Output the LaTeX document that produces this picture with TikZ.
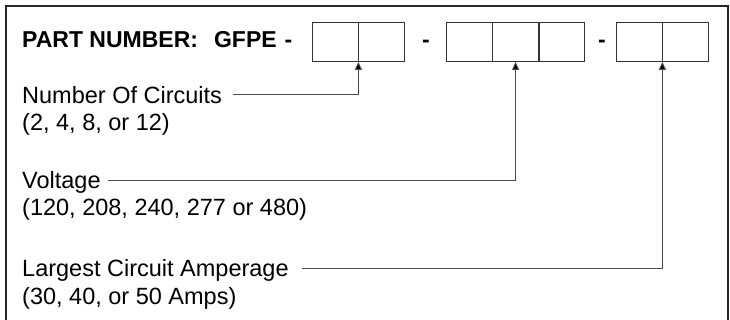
\documentclass[tikz,border=0pt]{standalone}
\usepackage{fontspec}
\setmainfont{Liberation Sans}
\usetikzlibrary{arrows.meta}
\begin{document}
\begin{tikzpicture}[x=1pt,y=-1pt,
  cell/.style={draw=black!80,line width=0.9pt,minimum width=45.5pt,minimum height=39pt,inner sep=0pt,anchor=north west},
  lbl/.style={anchor=base west,inner sep=0pt,font=\fontsize{23.5}{28}\selectfont},
  hdr/.style={anchor=base west,inner sep=0pt,font=\fontsize{23}{27}\selectfont\bfseries},
  conn/.style={draw=black!70,line width=0.9pt,-{Triangle[length=8pt,width=7pt,fill=black]}}]
\useasboundingbox (0,0) rectangle (730,320);
% frame
\draw[line width=1.4pt,black!85] (6,320) -- (6,6) -- (728,6) -- (728,320);
% header
\node[hdr] (title) at (22,48) {PART NUMBER:\hspace{16pt}GFPE\hspace{8pt}-};
\node[hdr,anchor=base] (d1) at (426,48) {-};
\node[hdr,anchor=base] (d2) at (602,48) {-};
% cells
\node[cell] (c11) at (312,22) {};
\node[cell] (c12) at (c11.north east) {};
\node[cell] (c21) at (446,22) {};
\node[cell] (c22) at (c21.north east) {};
\node[cell] (c23) at (c22.north east) {};
\node[cell] (c31) at (616,22) {};
\node[cell] (c32) at (c31.north east) {};
% labels
\node[lbl] (n1) at (22,104) {Number Of Circuits};
\node[lbl] (n2) at (22,131) {(2, 4, 8, or 12)};
\node[lbl] (v1) at (22,189) {Voltage};
\node[lbl] (v2) at (22,216) {(120, 208, 240, 277 or 480)};
\node[lbl] (a1) at (22,276) {Largest Circuit Amperage};
\node[lbl] (a2) at (22,304) {(30, 40, or 50 Amps)};
% connectors
\coordinate (s1) at (233,94);
\coordinate (s2) at (108,180);
\coordinate (s3) at (302,268);
\draw[conn] (s1) -| (c11.south east);
\draw[conn] (s2) -| (c22.south);
\draw[conn] (s3) -| (c31.south east);
\end{tikzpicture}
\end{document}
